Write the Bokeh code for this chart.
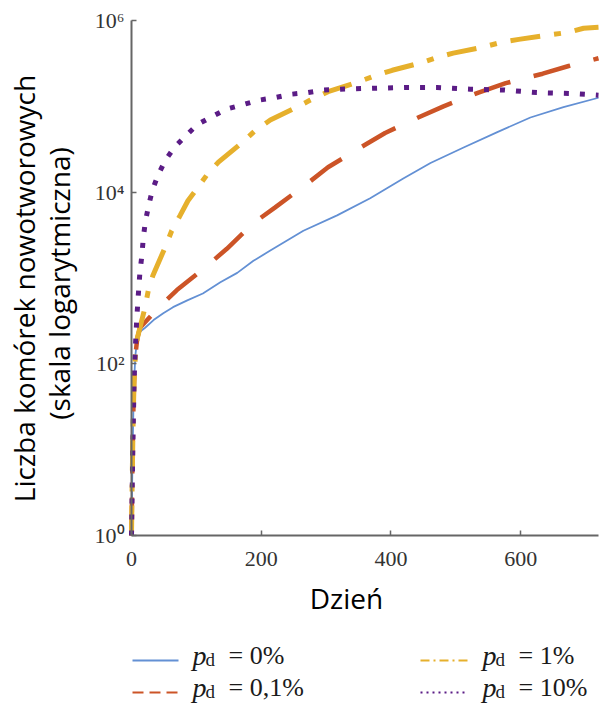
import numpy as np
from bokeh.plotting import figure
from bokeh.models import FixedTicker, Range1d, LinearAxis, LogAxis, LogScale
from bokeh.core.properties import value
from bokeh.embed import file_html
from bokeh.resources import INLINE

# ---- data: day vs. log10(tumour cell count) ----
pd0_day = [0, 1, 2, 3, 4, 6, 9, 14, 21, 34, 49, 64, 86, 110, 137, 163, 188, 214, 265,
           317, 368, 419, 461, 512, 564, 615, 666, 720]
pd0_log = [0, 0.6, 1.1, 1.5, 1.8, 2.1, 2.3, 2.38, 2.42, 2.51, 2.59, 2.66, 2.74, 2.82, 2.95,
           3.06, 3.20, 3.32, 3.55, 3.73, 3.93, 4.16, 4.34, 4.52, 4.70, 4.87, 4.99, 5.10]

pd01_day = [0, 1, 2, 3, 4, 6, 9, 13, 41, 70, 113, 147, 188, 221, 271, 303, 353, 391, 442,
            481, 535, 577, 634, 674, 720]
pd01_log = [0, 0.6, 1.1, 1.5, 1.8, 2.1, 2.3, 2.42, 2.65, 2.86, 3.12, 3.34, 3.64, 3.82, 4.10,
            4.29, 4.52, 4.69, 4.87, 5.00, 5.16, 5.27, 5.38, 5.47, 5.56]

pd1_day = [0, 1, 2, 3, 4, 6, 9, 14, 21, 26, 33, 52, 62, 75, 87, 101, 118, 134, 171, 191,
           214, 255, 275, 303, 348, 373, 402, 448, 471, 496, 542, 572, 597, 643, 672, 697, 720]
pd1_log = [0, 0.6, 1.1, 1.5, 1.8, 2.1, 2.3, 2.45, 2.66, 2.86, 3.03, 3.36, 3.55, 3.73, 3.90,
           4.04, 4.22, 4.35, 4.58, 4.72, 4.84, 4.99, 5.07, 5.17, 5.28, 5.35, 5.42, 5.51, 5.57,
           5.62, 5.69, 5.75, 5.78, 5.83, 5.86, 5.91, 5.92]

pd10_day = [0, 2, 4, 6, 8, 10, 13, 16, 18, 21, 26, 32, 41, 52, 66, 84, 102, 124, 147, 172,
            195, 220, 245, 271, 296, 322, 371, 422, 471, 522, 574, 625, 677, 720]
pd10_log = [0, 1.0, 1.8, 2.2, 2.51, 2.75, 3.07, 3.26, 3.45, 3.64, 3.83, 4.02, 4.20, 4.37,
            4.52, 4.66, 4.79, 4.88, 4.97, 5.02, 5.07, 5.10, 5.14, 5.16, 5.19, 5.20, 5.21,
            5.22, 5.22, 5.20, 5.19, 5.16, 5.15, 5.13]

x_ticks = [0, 200, 400, 600]
y_ticks = [1, 100, 10000, 1000000]
y_tick_labels = {1: "10\u2070", 100: "10\u00b2", 10000: "10\u2074", 1000000: "10\u2076"}

legend_labels = ["= 0%", "= 0,1%", "= 1%", "= 10%"]

BLUE = "#6390d4"
RED = "#cc5427"
YELLOW = "#e6b02c"
PURPLE = "#5b1c86"
AXIS = "#666666"
TICK_TEXT = "#333333"
INK = "#1a1a1a"

# canvas geometry: the data area sits at x 131..598, y 20..535 (pixels from top-left)
W, H = 600, 707
X_MAX, Y_DECADES = 720, 6
AX_L, AX_R, AX_T, AX_B = 131, 598, 20, 535
PX_PER_DAY = (AX_R - AX_L) / X_MAX
PX_PER_DEC = (AX_B - AX_T) / Y_DECADES


def px_to_day(px):
    return (px - AX_L) / PX_PER_DAY


def py_to_count(py):
    return 10 ** ((AX_B - py) / PX_PER_DEC)


p = figure(width=W, height=H,
           x_range=Range1d(px_to_day(0), px_to_day(W)),
           y_range=Range1d(py_to_count(H), py_to_count(0)),
           y_axis_type="log", x_axis_location=None, y_axis_location=None,
           output_backend="svg", toolbar_location=None, min_border=0)
p.y_scale = LogScale()
p.outline_line_color = None
p.grid.visible = False
p.background_fill_color = "white"
p.border_fill_color = "white"

xaxis = LinearAxis(fixed_location=1, bounds=(0, X_MAX),
                   ticker=FixedTicker(ticks=x_ticks, minor_ticks=[]))
yaxis = LogAxis(fixed_location=0, bounds=(1, 10 ** Y_DECADES),
                ticker=FixedTicker(ticks=y_ticks, minor_ticks=[]),
                major_label_overrides=y_tick_labels)
for ax in (xaxis, yaxis):
    ax.axis_line_color = AXIS
    ax.axis_line_width = 2
    ax.major_tick_line_color = AXIS
    ax.major_tick_line_width = 1.5
    ax.major_tick_in = 5
    ax.major_tick_out = 0
    ax.minor_tick_in = 0
    ax.minor_tick_out = 0
    ax.major_label_text_font = "Liberation Serif"
    ax.major_label_text_font_size = "22px"
    ax.major_label_text_color = TICK_TEXT
xaxis.major_label_standoff = 16
yaxis.major_label_standoff = 7
p.add_layout(xaxis, "below")
p.add_layout(yaxis, "left")


def to_counts(logs):
    return 10 ** np.array(logs, dtype=float)


p.line(pd0_day, to_counts(pd0_log), line_color=BLUE, line_width=1.8)
p.line(pd01_day, to_counts(pd01_log), line_color=RED, line_width=4.5, line_dash="38 24")
p.line(pd1_day, to_counts(pd1_log), line_color=YELLOW, line_width=5, line_dash="30 14 7 14")
p.line(pd10_day, to_counts(pd10_log), line_color=PURPLE, line_width=5, line_dash="5 11")

# axis titles
title_font = dict(text_font=value("Open Sans"), text_font_size=value("28px"),
                  text_color="black", text_align="center", text_baseline="alphabetic")
p.text(x=[px_to_day(23), px_to_day(58)], y=[py_to_count(288), py_to_count(283)],
       text=["Liczba komórek nowotworowych", "(skala logarytmiczna)"],
       angle=np.pi / 2, **title_font)
p.text(x=[px_to_day(346)], y=[py_to_count(597)], text=["Dzień"], **title_font)

# legend below the axes
row_y = [660, 692]
sw_l = [(132, 178), (132, 178), (420, 467), (420, 467)]
sw_row = [row_y[0], row_y[1], row_y[0], row_y[1]]
sw_style = [dict(line_color=BLUE, line_width=1.8),
            dict(line_color=RED, line_width=2, line_dash="11 6"),
            dict(line_color=YELLOW, line_width=2, line_dash="9 4 2 4"),
            dict(line_color=PURPLE, line_width=2, line_dash="2 4")]
for (x0, x1), ry, st in zip(sw_l, sw_row, sw_style):
    p.line([px_to_day(x0), px_to_day(x1)], [py_to_count(ry), py_to_count(ry)], **st)

entry_x = [192, 192, 482, 482]
entry_base = [ry - 5 for ry in sw_row]
serif = value("Liberation Serif")
p.text(x=[px_to_day(x) for x in entry_x], y=[py_to_count(b) for b in entry_base],
       text=["p"] * 4, text_font=serif, text_font_style="italic",
       text_font_size=value("28px"), text_color=INK, text_baseline="alphabetic")
p.text(x=[px_to_day(x + 13) for x in entry_x], y=[py_to_count(b + 4) for b in entry_base],
       text=["d"] * 4, text_font=serif, text_font_size=value("19px"),
       text_color=INK, text_baseline="alphabetic")
p.text(x=[px_to_day(x + 36) for x in entry_x], y=[py_to_count(b) for b in entry_base],
       text=legend_labels, text_font=serif, text_font_size=value("26px"),
       text_color=INK, text_baseline="alphabetic")

open("out.html", "w").write(file_html(p, INLINE))
